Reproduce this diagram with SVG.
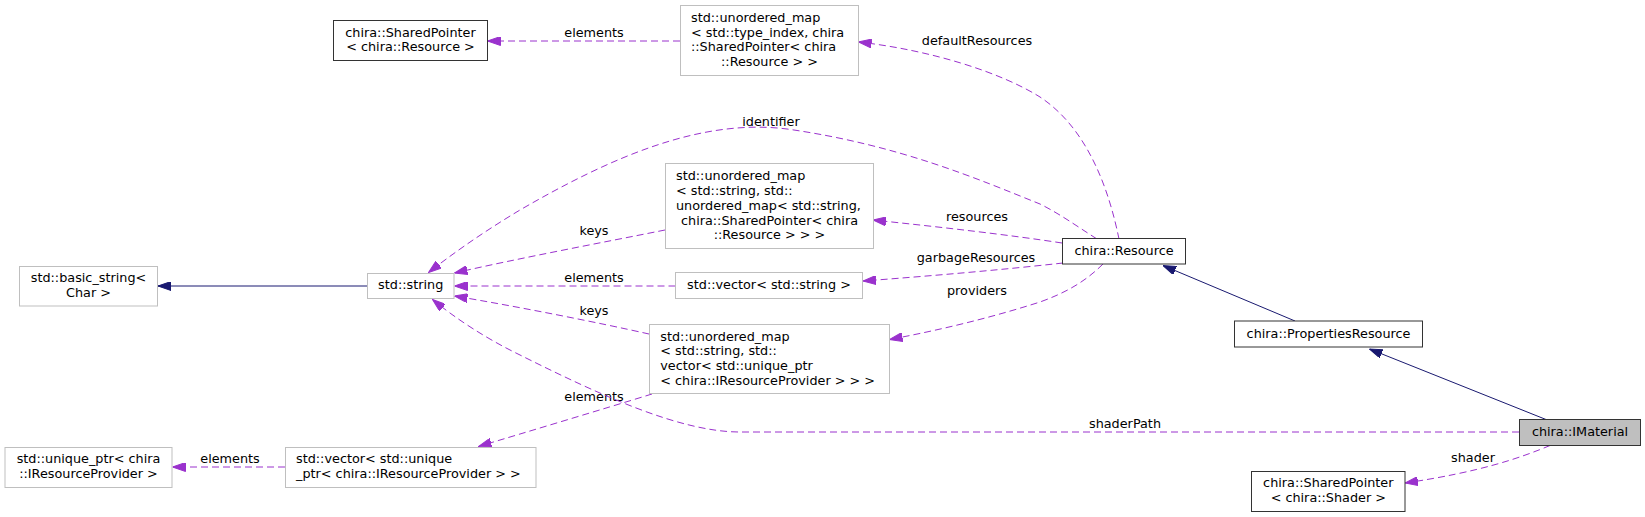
<svg xmlns="http://www.w3.org/2000/svg" width="1645" height="517" viewBox="0 0 1645 517">
<style>
text{font-family:"DejaVu Sans","Liberation Sans",sans-serif;font-size:12.8px;fill:#000}
.c{text-anchor:middle}
.doc{fill:#fff;stroke:#333;stroke-width:1}
.und{fill:#fff;stroke:#bfbfbf;stroke-width:1}
.cur{fill:#bfbfbf;stroke:#333;stroke-width:1}
.use{fill:none;stroke:#9a32cd;stroke-width:1;stroke-dasharray:7,4;marker-end:url(#ap)}
.inh{fill:none;stroke:#191970;stroke-width:1;marker-end:url(#ab)}
</style>
<defs>
<marker id="ap" markerUnits="userSpaceOnUse" viewBox="0 0 13 9" markerWidth="13" markerHeight="9" refX="13" refY="4.5" orient="auto"><path d="M0,0L13,4.5L0,9z" fill="#9a32cd" stroke="#9a32cd"/></marker>
<marker id="ab" markerUnits="userSpaceOnUse" viewBox="0 0 13 9" markerWidth="13" markerHeight="9" refX="13" refY="4.5" orient="auto"><path d="M0,0L13,4.5L0,9z" fill="#191970" stroke="#191970"/></marker>
</defs>
<rect width="1645" height="517" fill="#fff"/>
<g id="edges">
<path class="use" d="M680,41L487.5,41"/>
<text class="c" x="594" y="37">elements</text>
<path class="use" d="M1119,239C1110,195 1090,130 1040,97C1000,72 930,50 858.5,42"/>
<text class="c" x="977" y="45">defaultResources</text>
<path class="use" d="M1097,239C1075,225 1060,214 1040,204C980,180 900,145 787,129C700,118 610,158 520,210C490,228 460,248 428.5,272.5"/>
<text class="c" x="771" y="126">identifier</text>
<path class="use" d="M665,230C600,243 520,258 454.5,273"/>
<text class="c" x="594" y="234.5">keys</text>
<path class="use" d="M1062,243C1010,235 940,227 873,220"/>
<text class="c" x="977" y="221">resources</text>
<path class="use" d="M675.5,286L454.5,286"/>
<text class="c" x="594" y="282">elements</text>
<path class="use" d="M1063,263C1000,270 930,276 863,281"/>
<text class="c" x="976" y="262">garbageResources</text>
<path class="use" d="M1103,264C1085,282 1065,293 1040,302C990,318 940,330 889.5,339.5"/>
<text class="c" x="977" y="295">providers</text>
<path class="use" d="M649,334C600,323 520,307 454.5,296"/>
<text class="c" x="594" y="315">keys</text>
<path class="use" d="M652,394C600,410 530,431 478.5,446.5"/>
<text class="c" x="594" y="401">elements</text>
<path class="use" d="M285,467L172.5,467"/>
<text class="c" x="230" y="463.2">elements</text>
<path class="use" d="M1519,432L740,432C680,432 600,395 520,355C485,338 455,318 432.5,299.5"/>
<text class="c" x="1125" y="428">shaderPath</text>
<path class="use" d="M1550,445.5C1520,458 1480,472 1405,483"/>
<text class="c" x="1473" y="461.5">shader</text>
<path class="inh" d="M367,286L158,286"/>
<path class="inh" d="M1295,321L1163,265.5"/>
<path class="inh" d="M1546,419.5L1369.5,349"/>
</g>
<g id="node_sp_resource">
<rect class="doc" x="333.5" y="20.5" width="154" height="40"/>
<text class="c" x="410.5" y="37.2">chira::SharedPointer</text>
<text class="c" x="410.5" y="51.2">&lt; chira::Resource &gt;</text>
</g>
<g id="node_map_typeindex">
<rect class="und" x="680.5" y="5.5" width="178" height="70"/>
<text x="691" y="21.8">std::unordered_map</text>
<text x="691" y="36.8">&lt; std::type_index, chira</text>
<text x="691" y="51.2">::SharedPointer&lt; chira</text>
<text class="c" x="769.5" y="66.2">::Resource &gt; &gt;</text>
</g>
<g id="node_map_string_map">
<rect class="und" x="665.5" y="163.5" width="208" height="85"/>
<text x="676" y="180.2">std::unordered_map</text>
<text x="676" y="194.5">&lt; std::string, std::</text>
<text x="676" y="209.5">unordered_map&lt; std::string,</text>
<text class="c" x="769.5" y="224.5">chira::SharedPointer&lt; chira</text>
<text class="c" x="769.5" y="238.8">::Resource &gt; &gt; &gt;</text>
</g>
<g id="node_string">
<rect class="und" x="367.5" y="273.5" width="86.5" height="25"/>
<text class="c" x="410.7" y="289.2">std::string</text>
</g>
<g id="node_basic_string">
<rect class="und" x="19.5" y="266.5" width="138" height="39.5"/>
<text class="c" x="88.5" y="282.2">std::basic_string&lt;</text>
<text class="c" x="88.5" y="296.5">Char &gt;</text>
</g>
<g id="node_vector_string">
<rect class="und" x="675.5" y="272.5" width="187" height="26"/>
<text class="c" x="769" y="288.8">std::vector&lt; std::string &gt;</text>
</g>
<g id="node_map_string_vector">
<rect class="und" x="649.5" y="324.5" width="240" height="69"/>
<text x="660.3" y="340.8">std::unordered_map</text>
<text x="660.3" y="354.8">&lt; std::string, std::</text>
<text x="660.3" y="369.8">vector&lt; std::unique_ptr</text>
<text x="660.3" y="384.8">&lt; chira::IResourceProvider &gt; &gt; &gt;</text>
</g>
<g id="node_vector_unique">
<rect class="und" x="285.5" y="447.5" width="250.5" height="40"/>
<text x="296" y="463.2">std::vector&lt; std::unique</text>
<text x="296" y="478.2">_ptr&lt; chira::IResourceProvider &gt; &gt;</text>
</g>
<g id="node_unique_ptr">
<rect class="und" x="5" y="447.5" width="167" height="40"/>
<text class="c" x="88.5" y="463.2">std::unique_ptr&lt; chira</text>
<text class="c" x="88.5" y="478.2">::IResourceProvider &gt;</text>
</g>
<g id="node_resource">
<rect class="doc" x="1062.5" y="238.5" width="123" height="25.5"/>
<text class="c" x="1124" y="255.2">chira::Resource</text>
</g>
<g id="node_properties">
<rect class="doc" x="1234.5" y="321" width="188" height="26"/>
<text class="c" x="1328.5" y="337.5">chira::PropertiesResource</text>
</g>
<g id="node_imaterial">
<rect class="cur" x="1519.5" y="419.5" width="121" height="26"/>
<text class="c" x="1580" y="435.5">chira::IMaterial</text>
</g>
<g id="node_sp_shader">
<rect class="doc" x="1251.5" y="471.5" width="153.5" height="40"/>
<text class="c" x="1328.3" y="487.2">chira::SharedPointer</text>
<text class="c" x="1328.3" y="501.5">&lt; chira::Shader &gt;</text>
</g>
</svg>
